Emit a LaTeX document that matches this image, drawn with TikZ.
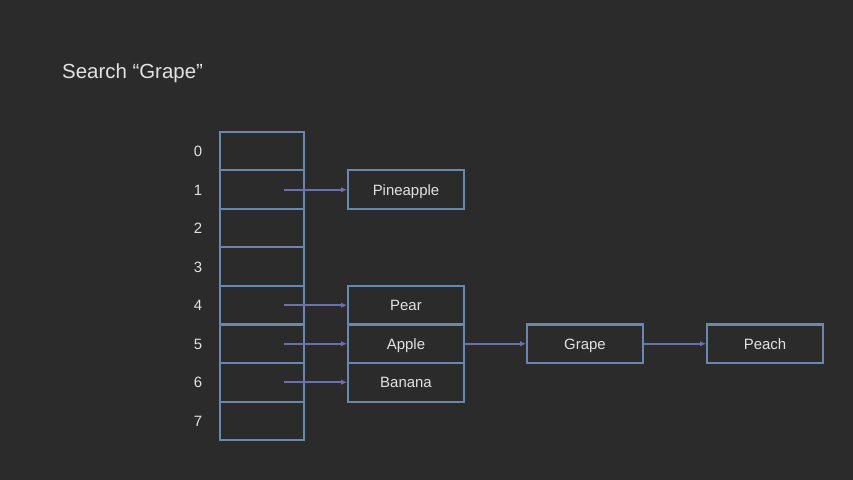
\documentclass[tikz,border=0pt]{standalone}
\usepackage{fontspec}
\setmainfont{Liberation Sans}
\usetikzlibrary{arrows.meta}

\definecolor{bgcol}{HTML}{2B2B2B}
\definecolor{boxcol}{HTML}{6A87AE}
\definecolor{arrcol}{HTML}{6C6FA8}
\definecolor{txtcol}{HTML}{E2E2E2}

\tikzset{
  cell/.style={draw=boxcol, line width=2bp, minimum width=84bp, minimum height=38.5bp, inner sep=0pt},
  item/.style={draw=boxcol, line width=2bp, minimum width=116bp, minimum height=38.5bp, inner sep=0pt, text=txtcol, text height=10.8bp, text depth=0pt, font=\fontsize{15}{18}\selectfont},
  idx/.style={text=txtcol, text height=10.8bp, text depth=0pt, inner sep=0pt, font=\fontsize{15}{18}\selectfont},
  link/.style={draw=arrcol, line width=1.7bp, -{Latex[length=6bp,width=5.5bp]}}
}

\begin{document}
\begin{tikzpicture}[x=1bp,y=-1bp]
\fill[bgcol] (0,0) rectangle (853,480);
\useasboundingbox (0,0) rectangle (853,480);

\node[text=txtcol, anchor=west, inner sep=0pt, font=\fontsize{20.5}{24}\selectfont] (title) at (62,73) {Search “Grape”};

% hash table
\node[cell] (c0) at (262,151.25) {};
\node[cell] (c1) at (262,189.75) {};
\node[cell] (c2) at (262,228.25) {};
\node[cell] (c3) at (262,266.75) {};
\node[cell] (c4) at (262,305.25) {};
\node[cell] (c5) at (262,343.75) {};
\node[cell] (c6) at (262,382.25) {};
\node[cell] (c7) at (262,420.75) {};

\node[idx] (i0) at (198,151.25) {0};
\node[idx] (i1) at (198,189.75) {1};
\node[idx] (i2) at (198,228.25) {2};
\node[idx] (i3) at (198,266.75) {3};
\node[idx] (i4) at (198,305.25) {4};
\node[idx] (i5) at (198,343.75) {5};
\node[idx] (i6) at (198,382.25) {6};
\node[idx] (i7) at (198,420.75) {7};

% chains
\node[item] (pineapple) at (406,189.75) {Pineapple};
\node[item] (pear) at (406,305.25) {Pear};
\node[item] (apple) at (406,343.75) {Apple};
\node[item] (banana) at (406,382.25) {Banana};
\node[item] (grape) at (585,343.75) {Grape};
\node[item] (peach) at (765,343.75) {Peach};

\coordinate (p1) at (284,189.75);
\coordinate (p4) at (284,305.25);
\coordinate (p5) at (284,343.75);
\coordinate (p6) at (284,382.25);

\path[link] (p1) -- (pineapple);
\path[link] (p4) -- (pear);
\path[link] (p5) -- (apple);
\path[link] (p6) -- (banana);
\path[link] (apple) -- (grape);
\path[link] (grape) -- (peach);
\end{tikzpicture}
\end{document}
